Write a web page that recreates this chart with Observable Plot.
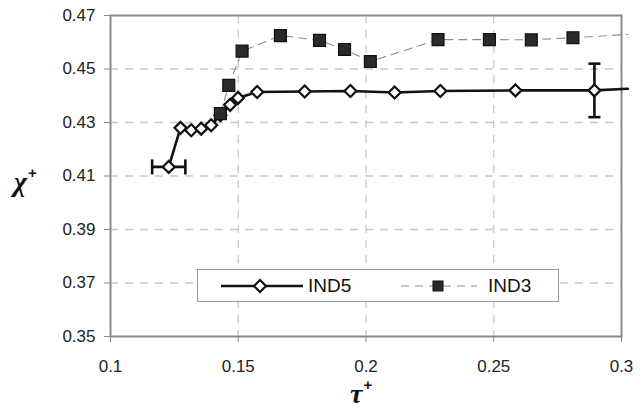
<!DOCTYPE html>
<html>
<head>
<meta charset="utf-8">
<script src="https://cdn.jsdelivr.net/npm/d3@7"></script>
<script src="https://cdn.jsdelivr.net/npm/@observablehq/plot@0.6"></script>
<style>
  html, body { margin: 0; padding: 0; background: #fff; }
  #wrap { position: relative; width: 644px; height: 410px; font-family: "Liberation Sans", Arial, sans-serif; }
  #wrap svg { display: block; }
  #wrap svg text { font-size: 17px !important; font-family: "Liberation Sans", Arial, sans-serif; }
  .axlab { position: absolute; font-family: "Liberation Serif", "Times New Roman", serif; font-weight: bold; font-style: italic; font-size: 28px; color: #111; line-height: 28px; height: 28px; }
  .axlab sup { font-family: "Liberation Sans", Arial, sans-serif; font-style: normal; font-size: 15px; vertical-align: baseline; position: relative; top: -13px; margin-left: 1px; line-height: 0; }
  #legend { position: absolute; left: 197px; top: 269px; width: 362px; height: 33px; background: #fff; border: 1px solid #999; box-sizing: border-box; }
  #legend .item { position: absolute; top: 0; height: 31px; display: flex; align-items: center; font-size: 19px; color: #111; }
</style>
</head>
<body>
<div id="wrap"></div>
<script>
// ---- data ----
const ind5Tau = [0.1228, 0.1274, 0.1316, 0.1355, 0.1394, 0.1430, 0.1468, 0.1499, 0.1574, 0.1760, 0.1939, 0.2112, 0.2291, 0.2585, 0.2894];
const ind5Chi = [0.4134, 0.4280, 0.4271, 0.4277, 0.4290, 0.4327, 0.4366, 0.4392, 0.4414, 0.4416, 0.4418, 0.4412, 0.4418, 0.4420, 0.4420];
const ind5TailTau = 0.3025, ind5TailChi = 0.4426;   // line continues past the frame
const ind3Tau = [0.1430, 0.1463, 0.1515, 0.1665, 0.1818, 0.1916, 0.2017, 0.2282, 0.2483, 0.2647, 0.2810];
const ind3Chi = [0.4333, 0.4439, 0.4567, 0.4625, 0.4607, 0.4573, 0.4528, 0.4610, 0.4610, 0.4609, 0.4617];
const ind3TailTau = 0.3025, ind3TailChi = 0.4629;
// error bars: first IND5 point horizontal, last IND5 point vertical
const errTau = 0.0065;
const errChi = 0.0100;
const xTicks = [0.1, 0.15, 0.2, 0.25, 0.3];
const yTicks = [0.35, 0.37, 0.39, 0.41, 0.43, 0.45, 0.47];
const seriesNames = ["IND5", "IND3"];

// ---- tables built from the arrays ----
const ind5 = ind5Tau.map((t, i) => ({tau: t, chi: ind5Chi[i]}));
const ind3 = ind3Tau.map((t, i) => ({tau: t, chi: ind3Chi[i]}));
const ind5Line = [...ind5, {tau: ind5TailTau, chi: ind5TailChi}];
const ind3Line = [...ind3, {tau: ind3TailTau, chi: ind3TailChi}];
const first = ind5[0], last = ind5[ind5.length - 1];
const hErr = [{x1: first.tau - errTau, x2: first.tau + errTau, y: first.chi}];
const vErr = [{x: last.tau, y1: last.chi - errChi, y2: last.chi + errChi}];

const vCap = {draw(ctx, size) { const r = Math.sqrt(size) / 2; ctx.moveTo(0, -r); ctx.lineTo(0, r); }};
const hCap = {draw(ctx, size) { const r = Math.sqrt(size) / 2; ctx.moveTo(-r, 0); ctx.lineTo(r, 0); }};

const gridY = yTicks.slice(1, -1);
const gridX = xTicks.slice(1, -1);

const chart = Plot.plot({
  width: 644,
  height: 410,
  marginLeft: 110,
  marginRight: 23,
  marginTop: 15,
  marginBottom: 74,
  x: {domain: [0.1, 0.3]},
  y: {domain: [0.35, 0.47]},
  style: {fontFamily: "'Liberation Sans', Arial, sans-serif", fontSize: "17px", color: "#222", overflow: "visible"},
  marks: [
    Plot.ruleY(gridY, {stroke: "#c8c8c8", strokeWidth: 1.3, strokeDasharray: "8,7"}),
    Plot.ruleX(gridX, {stroke: "#c8c8c8", strokeWidth: 1.3, strokeDasharray: "8,7"}),
    Plot.frame({stroke: "#8a8a8a", strokeWidth: 2}),
    Plot.axisY({ticks: yTicks, tickFormat: d3.format(".2f"), tickSize: 6, tickPadding: 9, stroke: "#888", fill: "#222", fontSize: 17, label: null}),
    Plot.axisX({ticks: xTicks, tickFormat: d => String(d), tickSize: 6, tickPadding: 17, stroke: "#888", fill: "#222", fontSize: 17, label: null}),
    // IND3 dashed line
    Plot.line(ind3Line, {x: "tau", y: "chi", stroke: "#8c8c8c", strokeWidth: 1.1, strokeDasharray: "8,6"}),
    // IND5 solid line
    Plot.line(ind5Line, {x: "tau", y: "chi", stroke: "#111", strokeWidth: 2.6}),
    // error bars
    Plot.link(hErr, {x1: "x1", x2: "x2", y1: "y", y2: "y", stroke: "#111", strokeWidth: 2.6}),
    Plot.dot(hErr, {x: "x1", y: "y", symbol: vCap, r: 8.5, stroke: "#111", strokeWidth: 2.6, fill: "none"}),
    Plot.dot(hErr, {x: "x2", y: "y", symbol: vCap, r: 8.5, stroke: "#111", strokeWidth: 2.6, fill: "none"}),
    Plot.link(vErr, {x1: "x", x2: "x", y1: "y1", y2: "y2", stroke: "#111", strokeWidth: 2.6}),
    Plot.dot(vErr, {x: "x", y: "y1", symbol: hCap, r: 6.8, stroke: "#111", strokeWidth: 2.6, fill: "none"}),
    Plot.dot(vErr, {x: "x", y: "y2", symbol: hCap, r: 6.8, stroke: "#111", strokeWidth: 2.6, fill: "none"}),
    // markers
    Plot.dot(ind5, {x: "tau", y: "chi", symbol: "diamond2", r: 5.4, fill: "#fff", stroke: "#111", strokeWidth: 2.2}),
    Plot.dot(ind3, {x: "tau", y: "chi", symbol: "square2", r: 7.6, fill: "#2a2a2a", stroke: "#111", strokeWidth: 1.2})
  ]
});

const wrap = document.getElementById("wrap");
wrap.appendChild(chart);

// axis labels
const yl = document.createElement("div");
yl.className = "axlab";
yl.style.left = "14px"; yl.style.top = "168px";
yl.innerHTML = "χ<sup>+</sup>";
wrap.appendChild(yl);
const xl = document.createElement("div");
xl.className = "axlab";
xl.style.left = "350px"; xl.style.top = "380px";
xl.innerHTML = "τ<sup>+</sup>";
wrap.appendChild(xl);

// legend
const lg = document.createElement("div");
lg.id = "legend";
lg.innerHTML =
  `<div class="item" style="left:23px">
     <svg width="82" height="16"><line x1="0" y1="8" x2="82" y2="8" stroke="#111" stroke-width="2.6"/>
       <path d="M39,2 L45,8 L39,14 L33,8 Z" fill="#fff" stroke="#111" stroke-width="2.2"/></svg>
     <span style="margin-left:5px">${seriesNames[0]}</span></div>
   <div class="item" style="left:203px">
     <svg width="76" height="16"><line x1="0" y1="8" x2="76" y2="8" stroke="#8c8c8c" stroke-width="1.1" stroke-dasharray="8,6"/>
       <rect x="32" y="3" width="10" height="10" fill="#2a2a2a" stroke="#111" stroke-width="1"/></svg>
     <span style="margin-left:11px">${seriesNames[1]}</span></div>`;
wrap.appendChild(lg);
</script>
</body>
</html>
